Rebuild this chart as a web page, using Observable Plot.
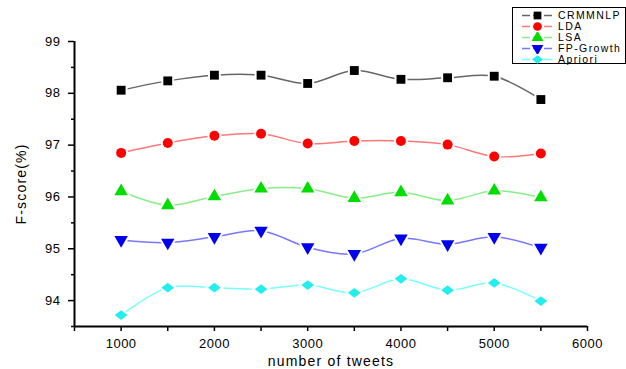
<!DOCTYPE html>
<html><head><meta charset="utf-8">
<script src="https://cdn.jsdelivr.net/npm/d3@7"></script>
<script src="https://cdn.jsdelivr.net/npm/@observablehq/plot@0.6"></script>
<style>
body{margin:0;background:#fff;font-family:"Liberation Sans",Arial,sans-serif;}
#wrap{position:relative;width:626px;height:369px;overflow:hidden;}
#legend{position:absolute;left:512px;top:7px;width:112px;height:55px;border:1.5px solid #000;background:#fff;}
#legend .row{position:absolute;left:0;height:11px;display:flex;align-items:center;white-space:nowrap;}
#legend span{font-size:10.5px;letter-spacing:1.4px;color:#000;margin-left:3px;white-space:nowrap;line-height:11px;}
</style></head><body>
<div id="wrap"><div id="chart"></div><div id="legend"></div></div>
<script>
const tweets = [1000,1500,2000,2500,3000,3500,4000,4500,5000,5500];
const seriesNames = ["CRMMNLP","LDA","LSA","FP-Growth","Apriori"];
const legendLabels = ["CRMMNLP"," LDA","LSA","FP-Growth","Apriori"];
const crmmnlp = [98.06,98.24,98.35,98.35,98.19,98.44,98.27,98.30,98.33,97.88];
const lda     = [96.85,97.04,97.18,97.22,97.03,97.08,97.08,97.01,96.78,96.84];
const lsa     = [96.11,95.84,96.01,96.16,96.16,95.98,96.09,95.93,96.12,95.99];
const fpg     = [95.17,95.12,95.23,95.35,95.03,94.90,95.20,95.09,95.23,95.02];
const apriori = [93.72,94.25,94.25,94.22,94.30,94.15,94.42,94.20,94.34,93.99];
const xTicks = [1000,2000,3000,4000,5000,6000];
const yTicks = [94,95,96,97,98,99];

const values = [crmmnlp,lda,lsa,fpg,apriori];
const markColors = ["#000000","#ff0000","#00dd00","#0000ee","#22eeee"];
const lineColors = ["#666666","#ff7777","#88ee88","#7777ff","#77ffff"];
const diamondW = {draw(ctx,size){const h=Math.sqrt(size)*0.55,w=Math.sqrt(size)*0.72;ctx.moveTo(-w,0);ctx.lineTo(0,-h);ctx.lineTo(w,0);ctx.lineTo(0,h);ctx.closePath();}};
const symbols = ["square","circle","triangle","triangle",diamondW];
const rotates = [0,0,0,180,0];

const data = [];
values.forEach((vals,si)=>vals.forEach((v,i)=>data.push({series:seriesNames[si],si,x:tweets[i],y:v})));

const marks = [];
values.forEach((vals,si)=>{
  const d = data.filter(e=>e.si===si);
  marks.push(Plot.line(d,{x:"x",y:"y",stroke:lineColors[si],strokeWidth:1.5,curve:"catmull-rom"}));
});
values.forEach((vals,si)=>{
  const d = data.filter(e=>e.si===si);
  marks.push(Plot.dot(d,{x:"x",y:"y",symbol:()=>symbols[si],fill:markColors[si],r:5,rotate:rotates[si],stroke:"white",strokeWidth:4,paintOrder:"stroke"}));
});

const chart = Plot.plot({
  width:626,height:369,
  marginLeft:74,marginRight:39,marginTop:41,marginBottom:43,
  style:{fontFamily:"Liberation Sans, Arial, sans-serif",fontSize:"13px",background:"#fff"},
  symbol:{type:"identity"},
  x:{domain:[500,6000]},
  y:{domain:[93.5,99]},
  marks:[
    ...marks,
    Plot.axisX({ticks:d3.range(500,6001,500),tickSize:5,tickFormat:()=>"",label:null,strokeWidth:1.5}),
    Plot.axisX({ticks:xTicks,tickSize:0,tickPadding:12,tickFormat:d3.format("d"),label:"number of tweets",labelAnchor:"center",labelOffset:39,labelArrow:"none",fontSize:13}),
    Plot.axisY({ticks:d3.range(93.5,99.01,0.5).filter(v=>!yTicks.includes(v)),tickSize:3,tickFormat:()=>"",label:null,strokeWidth:1.5}),
    Plot.axisY({ticks:yTicks,tickSize:6,tickPadding:8,tickFormat:d3.format("d"),label:"F-score(%)",labelAnchor:"center",labelOffset:58,labelArrow:"none",fontSize:13,strokeWidth:1.5}),
    Plot.ruleX([500],{stroke:"#000",strokeWidth:2}),
    Plot.ruleY([93.5],{stroke:"#000",strokeWidth:2})
  ]
});
chart.querySelectorAll('[aria-label="x-axis label"] text, [aria-label="y-axis label"] text').forEach(t=>{t.style.fontSize="14px";t.style.letterSpacing="1.2px";});
chart.querySelectorAll('[aria-label="x-axis tick label"] text, [aria-label="y-axis tick label"] text').forEach(t=>{t.style.letterSpacing="0.5px";});
document.getElementById("chart").appendChild(chart);

const lg = document.getElementById("legend");
const rowTops = [2,13,24,35,46];
seriesNames.forEach((n,si)=>{
  const row = document.createElement("div");
  row.className="row"; row.style.top=rowTops[si]+"px";
  const sw = d3.create("svg").attr("width",42).attr("height",11);
  sw.append("line").attr("x1",9).attr("x2",40).attr("y1",5.5).attr("y2",5.5).attr("stroke",lineColors[si]).attr("stroke-width",1.5).attr("stroke-dasharray","8,3");
  const sym = typeof symbols[si]==="string" ? {square:d3.symbolSquare,circle:d3.symbolCircle,triangle:d3.symbolTriangle}[symbols[si]] : symbols[si];
  sw.append("path").attr("d",d3.symbol(sym,60)()).attr("fill",markColors[si]).attr("transform",`translate(24.5,5.5) rotate(${rotates[si]})`);
  row.appendChild(sw.node());
  const sp=document.createElement("span"); sp.textContent=legendLabels[si]; row.appendChild(sp);
  lg.appendChild(row);
});
</script>
</body></html>
